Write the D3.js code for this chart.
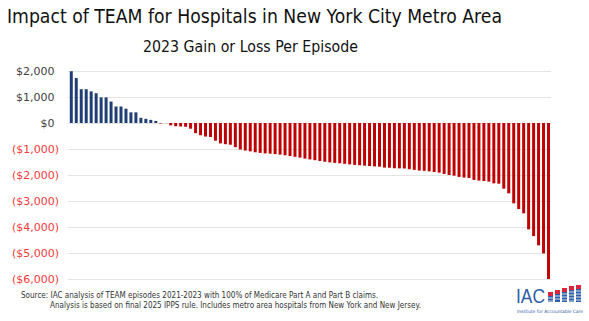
<!DOCTYPE html>
<html>
<head>
<meta charset="utf-8">
<script src="https://cdn.jsdelivr.net/npm/d3@7"></script>
<style>
  body { margin: 0; background: #fff; }
  svg { display: block; font-family: "DejaVu Sans", Verdana, sans-serif; }
</style>
</head>
<body>
<div id="chart"></div>
<script>
// Gain or loss per episode for each hospital, sorted from best to worst
const gainLoss = [
  1990, 1730, 1300, 1300, 1215, 1145, 985, 985, 825, 635,
  635, 550, 410, 410, 200, 160, 120, 80, -20, -5,
  -90, -125, -135, -145, -220, -390, -470, -520, -540, -680,
  -785, -815, -835, -930, -1020, -1060, -1090, -1125, -1150, -1170,
  -1180, -1195, -1215, -1240, -1270, -1300, -1330, -1370, -1400, -1430,
  -1460, -1490, -1515, -1535, -1550, -1570, -1590, -1610, -1625, -1640,
  -1655, -1670, -1680, -1715, -1720, -1740, -1745, -1750, -1780, -1805,
  -1830, -1840, -1860, -1885, -1910, -1960, -2000, -2025, -2075, -2100,
  -2115, -2190, -2215, -2230, -2255, -2320, -2335, -2525, -2705, -3090,
  -3310, -3475, -4090, -4350, -4705, -5015, -6000
];
const hospitals = gainLoss.map((d, i) => i + 1);
const yTicks = [2000, 1000, 0, -1000, -2000, -3000, -4000, -5000, -6000];

const sourceLines = [
  "Source: IAC analysis of TEAM episodes 2021-2023 with 100% of Medicare Part A and Part B claims.",
  "Analysis is based on final 2025 IPPS rule. Includes metro area hospitals from New York and New Jersey."
];

const W = 589, H = 321;
const plot = {left: 68.8, right: 551, top: 71, bottom: 279};

const svg = d3.select("#chart").append("svg")
    .attr("width", W)
    .attr("height", H);

svg.append("text")
    .attr("x", 7)
    .attr("y", 23)
    .attr("textLength", 495)
    .attr("lengthAdjust", "spacingAndGlyphs")
    .style("font-size", "19.5px")
    .style("fill", "#111")
    .text("Impact of TEAM for Hospitals in New York City Metro Area");

svg.append("text")
    .attr("x", 143)
    .attr("y", 52)
    .attr("textLength", 215)
    .attr("lengthAdjust", "spacingAndGlyphs")
    .style("font-size", "15px")
    .style("fill", "#111")
    .text("2023 Gain or Loss Per Episode");

const x = d3.scaleBand()
    .domain(hospitals)
    .range([plot.left, plot.right])
    .paddingInner(0.4)
    .paddingOuter(0.2);

const y = d3.scaleLinear()
    .domain([-6000, 2000])
    .range([plot.bottom, plot.top]);

// gridlines
svg.append("g")
    .selectAll("line")
    .data(yTicks)
  .enter().append("line")
    .attr("x1", plot.left - 1)
    .attr("x2", plot.right)
    .attr("y1", d => Math.round(y(d)) + 0.5)
    .attr("y2", d => Math.round(y(d)) + 0.5)
    .attr("stroke", "#e4e4e4")
    .attr("stroke-width", 1);

const fmt = d3.format(",");
const yAxis = d3.axisLeft(y)
    .tickValues(yTicks)
    .tickSize(0)
    .tickPadding(0)
    .tickFormat(d => d < 0 ? `($${fmt(-d)})` : `$${fmt(d)}`);

const gy = svg.append("g")
    .attr("transform", `translate(59,0)`)
    .call(yAxis);
gy.select(".domain").remove();
gy.selectAll("text")
    .attr("x", d => d < 0 ? 0 : -4.5)
    .style("font-family", "\"DejaVu Sans\", Verdana, sans-serif")
    .style("font-size", "11px")
    .style("fill", d => d < 0 ? "#f23a3a" : "#404040");

svg.append("g")
    .selectAll("rect")
    .data(gainLoss)
  .enter().append("rect")
    .attr("x", (d, i) => x(hospitals[i]))
    .attr("width", x.bandwidth())
    .attr("y", d => y(Math.max(0, d)))
    .attr("height", d => Math.abs(y(d) - y(0)))
    .attr("fill", d => d >= 0 ? "#1f3e74" : "#c00000");

// source note
svg.append("g")
    .selectAll("text")
    .data(sourceLines)
  .enter().append("text")
    .attr("x", (d, i) => i === 0 ? 21 : 50)
    .attr("y", (d, i) => 298 + i * 10)
    .attr("textLength", (d, i) => i === 0 ? 357 : 371)
    .attr("lengthAdjust", "spacingAndGlyphs")
    .style("font-size", "8px")
    .style("fill", "#333")
    .text(d => d);

// IAC logo
const logo = svg.append("g").attr("class", "logo");
logo.append("text")
    .attr("x", 516)
    .attr("y", 303)
    .attr("textLength", 29)
    .attr("lengthAdjust", "spacingAndGlyphs")
    .style("font-size", "20px")
    .style("font-family", "\"Liberation Sans\", Arial, sans-serif")
    .style("fill", "#2f5ea8")
    .text("IAC");

const logoBars = [6, 8, 10, 12, 13];
logoBars.forEach((h, i) => {
  const bx = 548 + i * 7;
  logo.append("rect").attr("x", bx).attr("y", 302 - h - 4).attr("width", 5).attr("height", 4).attr("fill", "#d9263a");
  logo.append("rect").attr("x", bx).attr("y", 302 - h).attr("width", 5).attr("height", h).attr("fill", "#2f5ea8");
  for (let s = 302 - h + 2; s < 302; s += 3) {
    logo.append("line").attr("x1", bx).attr("x2", bx + 5).attr("y1", s).attr("y2", s)
        .attr("stroke", "#fff").attr("stroke-width", 0.8);
  }
});
logo.append("text")
    .attr("x", 517)
    .attr("y", 313)
    .attr("textLength", 66)
    .attr("lengthAdjust", "spacingAndGlyphs")
    .style("font-size", "4.5px")
    .style("fill", "#2f5ea8")
    .text("Institute for Accountable Care");
</script>
</body>
</html>
